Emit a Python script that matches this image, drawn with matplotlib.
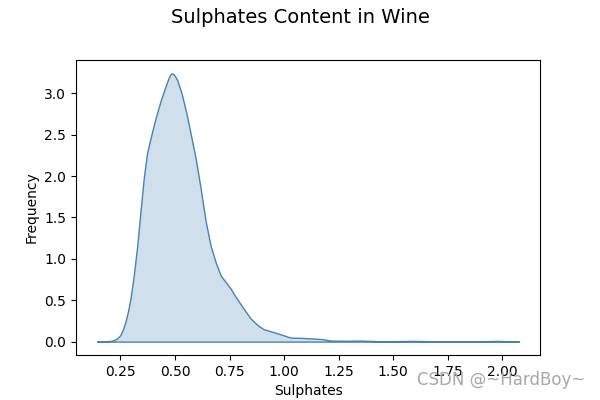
import matplotlib
matplotlib.use("Agg")
import matplotlib.pyplot as plt

# density curve
sulphates = [0.143, 0.181, 0.205, 0.218, 0.235, 0.250, 0.262, 0.273, 0.285, 0.296,
             0.311, 0.327, 0.342, 0.357, 0.372, 0.388, 0.411, 0.433, 0.456, 0.470,
             0.478, 0.484, 0.491, 0.497, 0.510, 0.530, 0.553, 0.571, 0.594, 0.617,
             0.640, 0.663, 0.686, 0.709, 0.732, 0.755, 0.778, 0.814, 0.846, 0.878,
             0.906, 0.938, 0.984, 1.030, 1.089, 1.144, 1.176, 1.213, 1.282, 1.351,
             1.443, 1.594, 1.718, 1.856, 1.979, 2.076]
density = [0.0, 0.003, 0.008, 0.016, 0.04, 0.08, 0.15, 0.24, 0.37, 0.52,
           0.80, 1.16, 1.58, 1.98, 2.28, 2.46, 2.70, 2.90, 3.08, 3.18,
           3.225, 3.24, 3.235, 3.22, 3.16, 3.00, 2.75, 2.52, 2.22, 1.86,
           1.46, 1.16, 0.96, 0.80, 0.72, 0.64, 0.54, 0.40, 0.28, 0.20,
           0.15, 0.125, 0.088, 0.048, 0.044, 0.035, 0.03, 0.012, 0.01, 0.012,
           0.004, 0.008, 0.003, 0.002, 0.008, 0.0]

fig = plt.figure(figsize=(6, 4), dpi=100)
ax = fig.add_axes([0.1267, 0.1125, 0.7733, 0.7375])

ax.fill_between(sulphates, density, 0, facecolor=(70/255, 130/255, 180/255, 0.25),
                edgecolor="steelblue", linewidth=1)
ax.margins(x=0.05, y=0.05)

ax.set_xlabel("Sulphates")
ax.set_ylabel("Frequency")
fig.suptitle("Sulphates Content in Wine", fontsize=14)

# watermark, overlapping the last tick labels as in the original
fig.text(0.975, 0.05, "CSDN @~HardBoy~", ha="right", va="center",
         fontsize=12, color="#a8a8a8")

fig.savefig("out.png", dpi=100)
